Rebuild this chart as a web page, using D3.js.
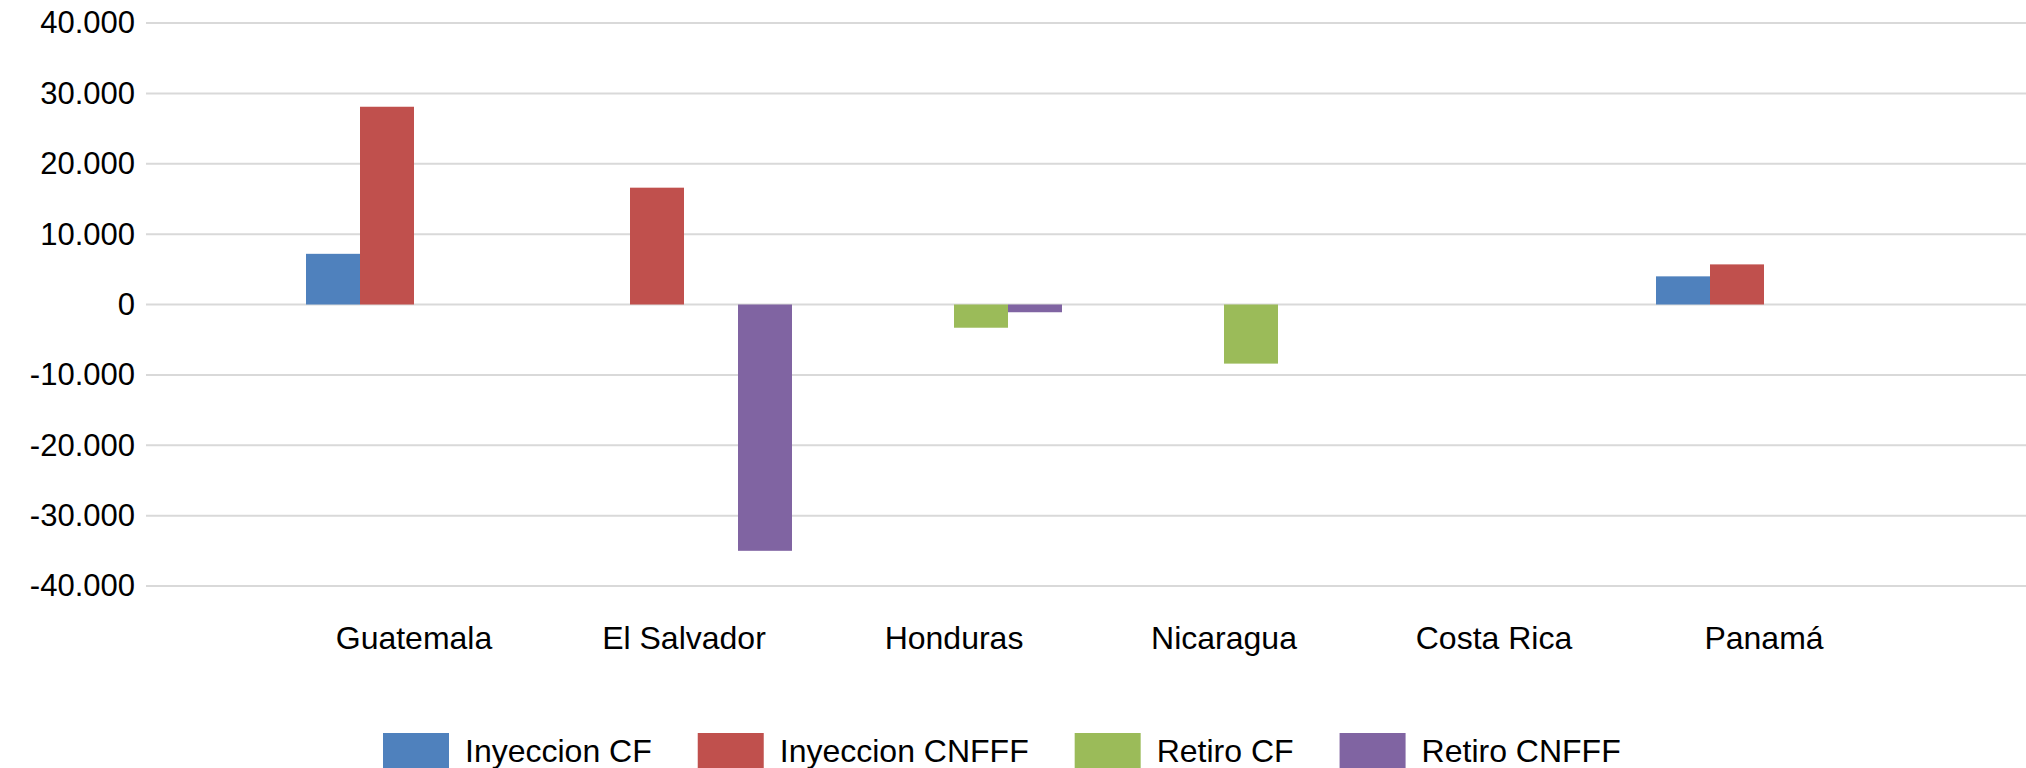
<!DOCTYPE html>
<html>
<head>
<meta charset="utf-8">
<script src="https://cdn.jsdelivr.net/npm/d3@7"></script>
<style>
  body { margin: 0; background: #fff; }
  svg text { font-family: "Liberation Sans", Arial, sans-serif; font-size: 32px; fill: #000; }
</style>
</head>
<body>
<svg id="chart" width="2026" height="768"></svg>
<script>
var paises = ["Guatemala", "El Salvador", "Honduras", "Nicaragua", "Costa Rica", "Panamá"];
var series = ["Inyeccion CF", "Inyeccion CNFFF", "Retiro CF", "Retiro CNFFF"];
var inyeccionCF = [7200, 0, 0, 0, 0, 4000];
var inyeccionCNFFF = [28100, 16600, 0, 0, 0, 5700];
var retiroCF = [0, 0, -3300, -8400, 0, 0];
var retiroCNFFF = [0, -35000, -1100, 0, 0, 0];
var ticks = [-40000, -30000, -20000, -10000, 0, 10000, 20000, 30000, 40000];
var colores = ["#4f81bd", "#c0504d", "#9bbb59", "#8064a2"];

var valores = [inyeccionCF, inyeccionCNFFF, retiroCF, retiroCNFFF];

var svg = d3.select("#chart");

var locale = d3.formatLocale({ decimal: ",", thousands: ".", grouping: [3], currency: ["", ""], minus: "-" });
var fmt = locale.format(",");

var y = d3.scaleLinear().domain([-40000, 40000]).range([586, 23]);
var x0 = d3.scaleBand().domain(paises).range([279, 1899]);
var x1 = d3.scaleBand().domain(series).range([27, 243]);
var color = d3.scaleOrdinal().domain(series).range(colores);

// lineas de la grilla
svg.append("g").selectAll("line")
    .data(ticks)
    .enter().append("line")
    .attr("x1", 146)
    .attr("x2", 2026)
    .attr("y1", d => y(d))
    .attr("y2", d => y(d))
    .attr("stroke", "#d9d9d9")
    .attr("stroke-width", 2);

// eje y
var ejeY = svg.append("g")
    .attr("transform", "translate(135,0)")
    .call(d3.axisLeft(y).tickValues(ticks).tickFormat(fmt).tickSize(0).tickPadding(0));
ejeY.select(".domain").remove();
ejeY.selectAll("text")
    .attr("dy", "0.32em")
    .style("font-size", "31px")
    .style("font-family", "Liberation Sans, Arial, sans-serif")
    .attr("fill", "#000");

// barras
var datos = [];
paises.forEach(function (p, i) {
    series.forEach(function (s, j) {
        datos.push({ pais: p, serie: s, valor: valores[j][i] });
    });
});

svg.append("g").selectAll("rect")
    .data(datos)
    .enter().append("rect")
    .attr("x", d => x0(d.pais) + x1(d.serie))
    .attr("width", x1.bandwidth())
    .attr("y", d => Math.min(y(0), y(d.valor)))
    .attr("height", d => Math.abs(y(d.valor) - y(0)))
    .attr("fill", d => color(d.serie));

// eje x (etiquetas)
svg.append("g").selectAll("text")
    .data(paises)
    .enter().append("text")
    .attr("x", d => x0(d) + x0.bandwidth() / 2)
    .attr("y", 649)
    .attr("text-anchor", "middle")
    .text(d => d);

// leyenda
var leyenda = svg.append("g");
var lx = 383;
series.forEach(function (s) {
    leyenda.append("rect")
        .attr("x", lx)
        .attr("y", 733)
        .attr("width", 66)
        .attr("height", 35)
        .attr("fill", color(s));
    var t = leyenda.append("text")
        .attr("x", lx + 82)
        .attr("y", 762)
        .text(s);
    lx = lx + 82 + t.node().getComputedTextLength() + 46;
});
</script>
</body>
</html>
